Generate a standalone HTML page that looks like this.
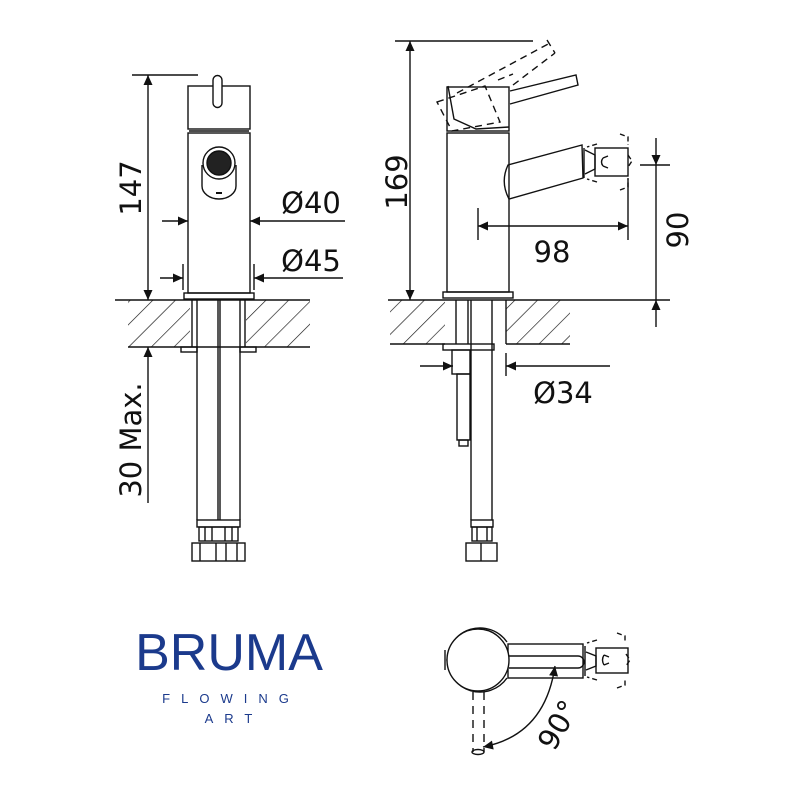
<!DOCTYPE html>
<html><head><meta charset="utf-8"><style>
html,body{margin:0;padding:0;background:#fff;}
svg{display:block}
text{font-family:"DejaVu Sans","Liberation Sans",sans-serif;fill:#111}
</style></head><body>
<svg width="796" height="805" viewBox="0 0 796 805" xmlns="http://www.w3.org/2000/svg">
<defs>
<pattern id="h" patternUnits="userSpaceOnUse" width="16" height="16" patternTransform="rotate(45)">
<line x1="0" y1="0" x2="0" y2="16" stroke="#111" stroke-width="1.3"/>
</pattern>
<marker id="a" viewBox="0 0 10 10" refX="10" refY="5" markerWidth="17" markerHeight="10" markerUnits="userSpaceOnUse" orient="auto-start-reverse"><path d="M0,0.5 L10,5 L0,9.5Z" fill="#111"/></marker>
</defs>
<g stroke="#111" stroke-width="1.4" fill="none">
<!-- LEFT VIEW -->
<rect x="128" y="300" width="62" height="47" fill="url(#h)" stroke="none"/>
<rect x="246" y="300" width="64" height="47" fill="url(#h)" stroke="none"/>
<line x1="115" y1="300" x2="310" y2="300"/>
<line x1="128" y1="347" x2="310" y2="347"/>
<line x1="192" y1="300" x2="192" y2="347"/><line x1="245" y1="300" x2="245" y2="347"/>
<line x1="132" y1="75" x2="198" y2="75"/>
<line x1="148" y1="75" x2="148" y2="300" marker-start="url(#a)" marker-end="url(#a)"/>
<line x1="148" y1="503" x2="148" y2="347" marker-end="url(#a)"/>
<rect x="188" y="86" width="62" height="43"/>
<path d="M213,103 V80 a4.5,4.5 0 0 1 9,0 V103 a4.5,4.5 0 0 1 -9,0Z" fill="#fff"/>
<line x1="189" y1="131" x2="249" y2="131"/>
<rect x="188" y="133" width="62" height="160"/>
<rect x="184" y="293" width="70" height="6"/>
<path d="M202,165 V186 a17,13 0 0 0 34,0 V165" />
<circle cx="219" cy="163" r="16" fill="#fff"/>
<circle cx="219" cy="163" r="12" fill="#222"/>
<line x1="216" y1="193" x2="222" y2="193" stroke-width="2"/>
<line x1="162" y1="221" x2="188" y2="221" marker-end="url(#a)"/>
<line x1="345" y1="221" x2="250" y2="221" marker-end="url(#a)"/>
<line x1="160" y1="278" x2="183" y2="278" marker-end="url(#a)"/>
<line x1="343" y1="278" x2="254" y2="278" marker-end="url(#a)"/>
<line x1="183" y1="264" x2="183" y2="290"/><line x1="254" y1="264" x2="254" y2="290"/>
<line x1="197" y1="300" x2="197" y2="520"/><line x1="218" y1="300" x2="218" y2="520"/>
<line x1="220" y1="300" x2="220" y2="520"/><line x1="240" y1="300" x2="240" y2="520"/>
<rect x="181" y="347" width="16" height="5"/><rect x="240" y="347" width="16" height="5"/>
<rect x="197" y="520" width="43" height="7"/>
<rect x="199" y="527" width="39" height="14"/>
<line x1="205" y1="527" x2="205" y2="541"/><line x1="212" y1="527" x2="212" y2="541"/><line x1="225" y1="527" x2="225" y2="541"/><line x1="232" y1="527" x2="232" y2="541"/>
<rect x="192" y="543" width="53" height="18"/>
<line x1="200" y1="543" x2="200" y2="561"/><line x1="216" y1="543" x2="216" y2="561"/><line x1="226" y1="543" x2="226" y2="561"/><line x1="237" y1="543" x2="237" y2="561"/>

<!-- RIGHT VIEW -->
<rect x="390" y="300" width="55" height="44" fill="url(#h)" stroke="none"/>
<rect x="506" y="300" width="64" height="44" fill="url(#h)" stroke="none"/>
<line x1="388" y1="300" x2="670" y2="300"/>
<line x1="390" y1="344" x2="445" y2="344"/><line x1="506" y1="344" x2="570" y2="344"/>
<line x1="506" y1="300" x2="506" y2="344"/>
<line x1="395" y1="41" x2="533" y2="41"/>
<line x1="410" y1="41" x2="410" y2="300" marker-start="url(#a)" marker-end="url(#a)"/>
<path d="M510,91 L576,75 L578,85 L510,104" fill="#fff"/>
<rect x="447" y="87" width="62" height="44"/>
<path d="M448,86 l6,33 l22,10 l33,-2" />
<rect x="447" y="133" width="62" height="159"/>
<rect x="443" y="292" width="70" height="6"/>
<g stroke-dasharray="7,5">
<path d="M437,102 l48,-16 l15,36 l-48,9 Z"/>
<path d="M457,93 L550,43 M498,80 L513,74 M513,85 L555,53 M547,40 l8,13"/>
</g>
<path d="M508,165 L582,145 L583,178 L509,199 Q500,182 508,165Z"/>
<rect x="595" y="148" width="33" height="28"/>
<path d="M585,150 l10,5 v14 l-10,5 M603,158 l5,-2 M603,166 l5,2 M603,158 q-3,4 0,8"/>
<path d="M584,148 v30" />
<path d="M620,134 l8,3 v8 M620,190 l8,-3 v-8 M628,155 l4,6 l-4,6 M597,144 l-10,3 M597,182 l-10,-3" stroke-dasharray="5,3"/>
<line x1="478" y1="208" x2="478" y2="240"/><line x1="628" y1="178" x2="628" y2="240"/>
<line x1="478" y1="226" x2="628" y2="226" marker-start="url(#a)" marker-end="url(#a)"/>
<line x1="640" y1="165" x2="670" y2="165"/>
<line x1="656" y1="138" x2="656" y2="165" marker-end="url(#a)"/>
<line x1="656" y1="165" x2="656" y2="300"/>
<line x1="656" y1="327" x2="656" y2="300" marker-end="url(#a)"/>
<line x1="456" y1="300" x2="456" y2="344"/><line x1="468" y1="300" x2="468" y2="344"/>
<line x1="471" y1="300" x2="471" y2="520"/><line x1="492" y1="300" x2="492" y2="520"/>
<rect x="443" y="344" width="51" height="6"/>
<rect x="452" y="350" width="18" height="24"/>
<rect x="457" y="374" width="13" height="66"/>
<rect x="459" y="440" width="9" height="6"/>
<line x1="420" y1="366" x2="453" y2="366" marker-end="url(#a)"/>
<line x1="610" y1="366" x2="506" y2="366" marker-end="url(#a)"/>
<line x1="506" y1="353" x2="506" y2="376"/>
<rect x="471" y="520" width="22" height="7"/>
<rect x="472" y="527" width="20" height="14"/>
<line x1="477" y1="527" x2="477" y2="541"/><line x1="487" y1="527" x2="487" y2="541"/>
<rect x="466" y="543" width="31" height="18"/><line x1="481" y1="543" x2="481" y2="561"/>

<!-- TOP VIEW -->
<path d="M447,660 a33,33 0 0 1 60,-18"/>
<path d="M447,660 a33,33 0 0 0 60,18"/>
<path d="M445,650 v20"/>
<rect x="508" y="644" width="75" height="34" fill="#fff"/>
<circle cx="478" cy="660" r="31" fill="#fff"/>
<path d="M509,656 H578 a6,6 0 0 1 0,12 H509"/>
<rect x="596" y="648" width="32" height="25"/>
<path d="M585,646 v30 M586,652 l10,4 v10 l-10,4 M604,655 l5,2 M604,665 l5,-2 M604,655 q-3,5 0,10"/>
<path d="M617,633 l8,3 v7 M617,688 l8,-3 v-7 M626,654 l4,6 l-4,6 M597,640 l-10,3 M597,680 l-10,-3" stroke-dasharray="5,3"/>
<path d="M473,692 V752 M484,692 V752" stroke-dasharray="8,6"/>
<ellipse cx="478" cy="752" rx="6" ry="2.5"/>
<path d="M555,666 Q545,735 483,747" marker-start="url(#a)" marker-end="url(#a)"/>
</g>
<g font-size="29">
<text transform="translate(141,188) rotate(-90)" text-anchor="middle">147</text>
<text transform="translate(141,440) rotate(-90)" text-anchor="middle">30 Max.</text>
<text x="311" y="213" text-anchor="middle">Ø40</text>
<text x="311" y="271" text-anchor="middle">Ø45</text>
<text transform="translate(407,182) rotate(-90)" text-anchor="middle">169</text>
<text x="552" y="262" text-anchor="middle">98</text>
<text transform="translate(688,230) rotate(-90)" text-anchor="middle">90</text>
<text x="563" y="403" text-anchor="middle">Ø34</text>
<text transform="translate(567,730) rotate(-60)" text-anchor="middle">90°</text>
</g>
<text x="229" y="670" text-anchor="middle" style="font-family:'Liberation Sans',sans-serif;fill:#1b3a8c" font-size="52">BRUMA</text>
<text x="231" y="703" text-anchor="middle" style="font-family:'Liberation Sans',sans-serif;fill:#1b3a8c;letter-spacing:11px" font-size="13">FLOWING</text>
<text x="234" y="723" text-anchor="middle" style="font-family:'Liberation Sans',sans-serif;fill:#1b3a8c;letter-spacing:11px" font-size="13">ART</text>
</svg>
</body></html>
